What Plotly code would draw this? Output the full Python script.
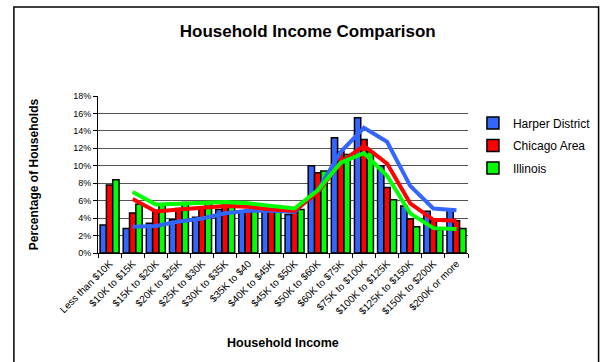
import plotly.graph_objects as go
import pandas as pd

categories = ["Less than $10K", "$10K to $15K", "$15K to $20K", "$20K to $25K",
              "$25K to $30K", "$30K to $35K", "$35K to $40", "$40K to $45K",
              "$45K to $50K", "$50K to $60K", "$60K to $75K", "$75K to $100K",
              "$100K to $125K", "$125K to $150K", "$150K to $200K", "$200K or more"]
harper = [3.2, 2.8, 3.4, 3.8, 4.1, 5.0, 4.7, 5.0, 4.4, 10.0, 13.2, 15.5, 10.0, 5.4, 4.8, 5.0]
chicago = [7.8, 4.6, 4.9, 5.1, 5.2, 5.6, 5.0, 5.0, 4.7, 9.2, 11.6, 13.0, 7.5, 3.9, 3.7, 3.7]
illinois = [8.4, 5.6, 5.5, 5.8, 5.8, 5.9, 5.5, 5.2, 5.0, 9.4, 11.3, 11.6, 6.1, 3.0, 2.7, 2.8]
series_names = ["Harper District", "Chicago Area", "Illinois"]
colors = ["#3366FF", "#FF0000", "#00FF00"]
y_ticks = list(range(0, 19, 2))

FONT = "Arial, 'Liberation Sans', sans-serif"
W, H = 608, 362
L, R, T, B = 98, 136, 96, 109

fig = go.Figure()
for name, vals, col in zip(series_names, [harper, chicago, illinois], colors):
    fig.add_trace(go.Bar(x=categories, y=vals, name=name, legendgroup=name,
                         marker=dict(color=col, line=dict(color="black", width=1.5))))
# 2-period moving average trendlines (Excel style)
for name, vals, col in zip(series_names, [harper, chicago, illinois], colors):
    ma = pd.Series(vals).rolling(2).mean()
    fig.add_trace(go.Scatter(x=categories, y=ma, mode="lines", showlegend=False,
                             legendgroup=name,
                             line=dict(color=col, width=4), hoverinfo="skip"))

pw = W - L - R
ph = H - T - B
fig.update_layout(
    width=W, height=H,
    margin=dict(l=L, r=R, t=T, b=B),
    paper_bgcolor="white", plot_bgcolor="white",
    font=dict(family=FONT, color="black", size=9),
    barmode="group", bargap=0.18, bargroupgap=0.0,
    showlegend=True,
    legend=dict(x=(477 - L) / pw, y=(T + ph - 108.5) / ph, xanchor="left", yanchor="top",
                font=dict(size=12, family=FONT), bgcolor="rgba(0,0,0,0)",
                traceorder="grouped", tracegroupgap=3.5, itemclick=False),
    title=dict(text="<b>Household Income Comparison</b>", xref="paper", x=(310 - L) / pw,
               xanchor="center", yref="container", y=1 - 31 / H, yanchor="middle",
               font=dict(size=17, family=FONT, color="black")),
    xaxis=dict(type="category", tickangle=-45, tickfont=dict(size=10, family=FONT),
               showline=True, linecolor="black", linewidth=1,
               ticks="outside", tickson="boundaries", ticklen=4, tickcolor="black",
               showgrid=False, fixedrange=True),
    yaxis=dict(range=[0, 18], tickvals=y_ticks, ticktext=[f"{v}%" for v in y_ticks],
               tickfont=dict(size=9, family=FONT),
               showline=True, linecolor="black", linewidth=1,
               ticks="outside", ticklen=4, tickcolor="black",
               showgrid=True, gridcolor="#555555", gridwidth=1, zeroline=False,
               fixedrange=True),
    annotations=[
        dict(text="<b>Percentage of Households</b>", xref="paper", yref="paper",
             x=(33 - L) / pw, y=0.5, textangle=-90, showarrow=False,
             xanchor="center", yanchor="middle", font=dict(size=12, family=FONT)),
        dict(text="<b>Household Income</b>", xref="paper", yref="paper",
             x=(285 - L) / pw, y=(T + ph - 343) / ph, showarrow=False,
             xanchor="center", yanchor="middle", font=dict(size=12.5, family=FONT)),
    ],
    shapes=[dict(type="rect", xref="paper", yref="paper",
                 x0=(13 - L) / pw, x1=(604 - L) / pw,
                 y0=(T + ph - 370) / ph, y1=(T + ph - 7) / ph,
                 line=dict(color="black", width=1.5), fillcolor="rgba(0,0,0,0)",
                 layer="below")],
)

fig.write_html("out.html")
